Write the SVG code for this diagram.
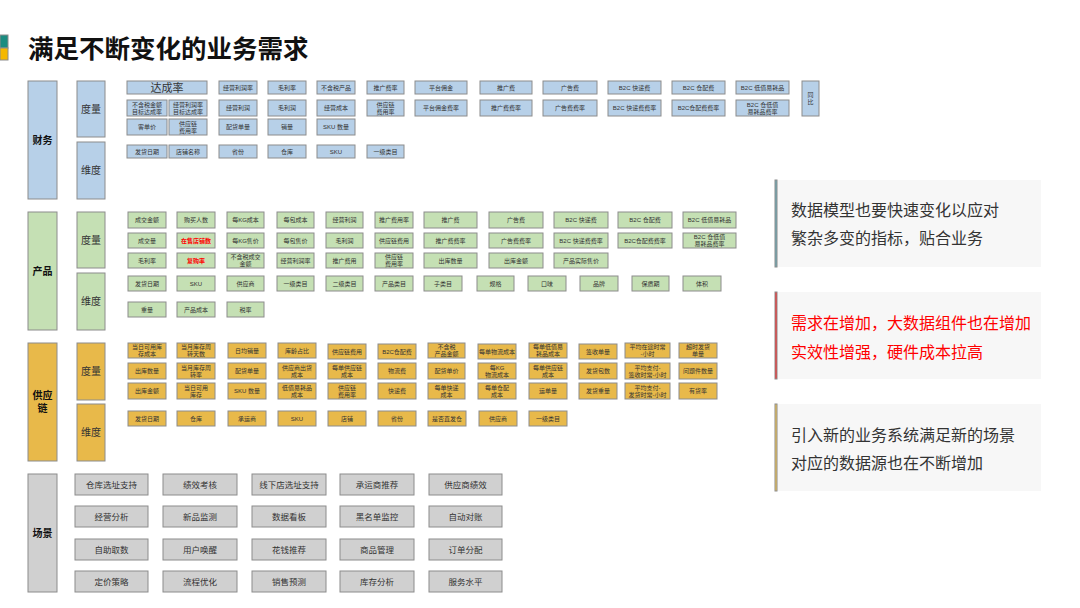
<svg xmlns="http://www.w3.org/2000/svg" width="1080" height="608" viewBox="0 0 1080 608">
<style>
text{font-family:"Liberation Sans","Noto Sans CJK SC",sans-serif;fill:#333;text-anchor:middle}
.s{font-size:6px}
.m{font-size:8.5px}
.l{font-size:10px}
.b{font-weight:bold;fill:#111}
.red{fill:#ff0000;font-weight:bold}
rect{stroke:#8c8c8c;stroke-width:1}
.fb{fill:#b7d0e8}
.pb{fill:#c5e0b4}
.sb{fill:#e8b94a}
.gb{fill:#d0d0d0}
.note{fill:#f7f7f7;stroke:none}
.nt{font-size:16px;text-anchor:start;fill:#333}
</style>
<rect x="0" y="35" width="8" height="13" fill="#1b8c80" stroke="none"/>
<rect x="0" y="48" width="8" height="12" fill="#f5b800" stroke="none"/>
<text x="28" y="58" style="font-size:25.5px;font-weight:bold;text-anchor:start;fill:#111">满足不断变化的业务需求</text>

<!-- left labels -->
<g id="lbl-fin"><rect class="fb" x="28" y="81" width="29" height="118"/><text class="l b" x="42.5" y="143.5">财务</text></g>
<g id="lbl-fin-m"><rect class="fb" x="77" y="81" width="28" height="56"/><text class="l" x="91" y="112.5">度量</text></g>
<g id="lbl-fin-d"><rect class="fb" x="77" y="142" width="28" height="57"/><text class="l" x="91" y="174">维度</text></g>
<g id="lbl-prod"><rect class="pb" x="28" y="212" width="29" height="118"/><text class="l b" x="42.5" y="274.5">产品</text></g>
<g id="lbl-prod-m"><rect class="pb" x="77" y="212" width="28" height="56"/><text class="l" x="91" y="243.5">度量</text></g>
<g id="lbl-prod-d"><rect class="pb" x="77" y="273" width="28" height="57"/><text class="l" x="91" y="305">维度</text></g>
<g id="lbl-sup"><rect class="sb" x="28" y="343" width="29" height="118"/><text class="l b" x="42.5" y="399">供应</text><text class="l b" x="42.5" y="412">链</text></g>
<g id="lbl-sup-m"><rect class="sb" x="77" y="343" width="28" height="57"/><text class="l" x="91" y="375">度量</text></g>
<g id="lbl-sup-d"><rect class="sb" x="77" y="404" width="28" height="57"/><text class="l" x="91" y="436">维度</text></g>
<g id="lbl-scene"><rect class="gb" x="28" y="474" width="29" height="118"/><text class="l b" x="42.5" y="536.5">场景</text></g>

<!-- finance -->
<g id="fin">
<g id="f-1-0"><rect class="fb" x="127" y="81" width="80" height="13"/><text x="167" y="91.5" style="font-size:11px">达成率</text></g>
<g id="f-1-1"><rect class="fb" x="219" y="81" width="38" height="13"/><text class="s" x="238" y="89.5">经营利润率</text></g>
<g id="f-1-2"><rect class="fb" x="268" y="81" width="38" height="13"/><text class="s" x="287" y="89.5">毛利率</text></g>
<g id="f-1-3"><rect class="fb" x="317" y="81" width="38" height="13"/><text class="s" x="336" y="89.5">不含税产品</text></g>
<g id="f-1-4"><rect class="fb" x="367" y="81" width="37" height="13"/><text class="s" x="385.5" y="89.5">推广费率</text></g>
<g id="f-1-5"><rect class="fb" x="415" y="81" width="52" height="13"/><text class="s" x="441" y="89.5">平台佣金</text></g>
<g id="f-1-6"><rect class="fb" x="480" y="81" width="52" height="13"/><text class="s" x="506" y="89.5">推广费</text></g>
<g id="f-1-7"><rect class="fb" x="543" y="81" width="54" height="13"/><text class="s" x="570" y="89.5">广告费</text></g>
<g id="f-1-8"><rect class="fb" x="608" y="81" width="53" height="13"/><text class="s" x="634.5" y="89.5">B2C 快递费</text></g>
<g id="f-1-9"><rect class="fb" x="672" y="81" width="53" height="13"/><text class="s" x="698.5" y="89.5">B2C 仓配费</text></g>
<g id="f-1-10"><rect class="fb" x="736" y="81" width="53" height="13"/><text class="s" x="762.5" y="89.5">B2C 低值易耗品</text></g>
<g id="f-yoy"><rect class="fb" x="802" y="81" width="17" height="35"/><text class="s" x="810.5" y="97">同</text><text class="s" x="810.5" y="104">比</text></g>

<g id="f-2-0"><rect class="fb" x="127" y="100" width="40" height="16"/><text class="s" x="147" y="106.5">不含税金额</text><text class="s" x="147" y="113.5">目标达成率</text></g>
<g id="f-2-1"><rect class="fb" x="169" y="100" width="38" height="16"/><text class="s" x="188" y="106.5">经营利润率</text><text class="s" x="188" y="113.5">目标达成率</text></g>
<g id="f-2-2"><rect class="fb" x="219" y="100" width="38" height="16"/><text class="s" x="238" y="110">经营利润</text></g>
<g id="f-2-3"><rect class="fb" x="268" y="100" width="38" height="16"/><text class="s" x="287" y="110">毛利润</text></g>
<g id="f-2-4"><rect class="fb" x="317" y="100" width="38" height="16"/><text class="s" x="336" y="110">经营成本</text></g>
<g id="f-2-5"><rect class="fb" x="367" y="100" width="37" height="16"/><text class="s" x="385.5" y="106.5">供应链</text><text class="s" x="385.5" y="113.5">费用率</text></g>
<g id="f-2-6"><rect class="fb" x="415" y="100" width="52" height="16"/><text class="s" x="441" y="110">平台佣金费率</text></g>
<g id="f-2-7"><rect class="fb" x="480" y="100" width="52" height="16"/><text class="s" x="506" y="110">推广费费率</text></g>
<g id="f-2-8"><rect class="fb" x="543" y="100" width="54" height="16"/><text class="s" x="570" y="110">广告费费率</text></g>
<g id="f-2-9"><rect class="fb" x="608" y="100" width="53" height="16"/><text class="s" x="634.5" y="110">B2C 快递费费率</text></g>
<g id="f-2-10"><rect class="fb" x="672" y="100" width="53" height="16"/><text class="s" x="698.5" y="110">B2C仓配费费率</text></g>
<g id="f-2-11"><rect class="fb" x="736" y="100" width="53" height="16"/><text class="s" x="762.5" y="106.5">B2C 仓低值</text><text class="s" x="762.5" y="113.5">易耗品费率</text></g>

<g id="f-3-0"><rect class="fb" x="127" y="119" width="40" height="16"/><text class="s" x="147" y="129">客单价</text></g>
<g id="f-3-1"><rect class="fb" x="169" y="119" width="38" height="16"/><text class="s" x="188" y="125.5">供应链</text><text class="s" x="188" y="132.5">费用率</text></g>
<g id="f-3-2"><rect class="fb" x="219" y="119" width="38" height="16"/><text class="s" x="238" y="129">配货单量</text></g>
<g id="f-3-3"><rect class="fb" x="268" y="119" width="38" height="16"/><text class="s" x="287" y="129">销量</text></g>
<g id="f-3-4"><rect class="fb" x="317" y="119" width="38" height="16"/><text class="s" x="336" y="129">SKU 数量</text></g>

<g id="f-d-0"><rect class="fb" x="127" y="145" width="40" height="13"/><text class="s" x="147" y="153.5">发货日期</text></g>
<g id="f-d-1"><rect class="fb" x="169" y="145" width="38" height="13"/><text class="s" x="188" y="153.5">店铺名称</text></g>
<g id="f-d-2"><rect class="fb" x="219" y="145" width="38" height="13"/><text class="s" x="238" y="153.5">省份</text></g>
<g id="f-d-3"><rect class="fb" x="268" y="145" width="38" height="13"/><text class="s" x="287" y="153.5">仓库</text></g>
<g id="f-d-4"><rect class="fb" x="317" y="145" width="38" height="13"/><text class="s" x="336" y="153.5">SKU</text></g>
<g id="f-d-5"><rect class="fb" x="367" y="145" width="37" height="13"/><text class="s" x="385.5" y="153.5">一级类目</text></g>
</g>

<!-- product -->
<g id="prod">
<g id="p-1-0"><rect class="pb" x="128" y="212" width="38" height="16"/><text class="s" x="147" y="222">成交金额</text></g>
<g id="p-1-1"><rect class="pb" x="177" y="212" width="38" height="16"/><text class="s" x="196" y="222">购买人数</text></g>
<g id="p-1-2"><rect class="pb" x="227" y="212" width="37" height="16"/><text class="s" x="245.5" y="222">每KG成本</text></g>
<g id="p-1-3"><rect class="pb" x="277" y="212" width="37" height="16"/><text class="s" x="295.5" y="222">每包成本</text></g>
<g id="p-1-4"><rect class="pb" x="326" y="212" width="37" height="16"/><text class="s" x="344.5" y="222">经营利润</text></g>
<g id="p-1-5"><rect class="pb" x="375" y="212" width="38" height="16"/><text class="s" x="394" y="222">推广费用率</text></g>
<g id="p-1-6"><rect class="pb" x="424" y="212" width="53" height="16"/><text class="s" x="450.5" y="222">推广费</text></g>
<g id="p-1-7"><rect class="pb" x="489" y="212" width="54" height="16"/><text class="s" x="516" y="222">广告费</text></g>
<g id="p-1-8"><rect class="pb" x="554" y="212" width="54" height="16"/><text class="s" x="581" y="222">B2C 快递费</text></g>
<g id="p-1-9"><rect class="pb" x="618" y="212" width="54" height="16"/><text class="s" x="645" y="222">B2C 仓配费</text></g>
<g id="p-1-10"><rect class="pb" x="683" y="212" width="53" height="16"/><text class="s" x="709.5" y="222">B2C 低值易耗品</text></g>

<g id="p-2-0"><rect class="pb" x="128" y="233" width="38" height="15"/><text class="s" x="147" y="242.5">成交量</text></g>
<g id="p-2-1"><rect class="pb" x="177" y="233" width="38" height="15"/><text class="s red" x="196" y="242.5">在售店铺数</text></g>
<g id="p-2-2"><rect class="pb" x="227" y="233" width="37" height="15"/><text class="s" x="245.5" y="242.5">每KG售价</text></g>
<g id="p-2-3"><rect class="pb" x="277" y="233" width="37" height="15"/><text class="s" x="295.5" y="242.5">每包售价</text></g>
<g id="p-2-4"><rect class="pb" x="326" y="233" width="37" height="15"/><text class="s" x="344.5" y="242.5">毛利润</text></g>
<g id="p-2-5"><rect class="pb" x="375" y="233" width="38" height="15"/><text class="s" x="394" y="242.5">供应链费用</text></g>
<g id="p-2-6"><rect class="pb" x="424" y="233" width="53" height="15"/><text class="s" x="450.5" y="242.5">推广费费率</text></g>
<g id="p-2-7"><rect class="pb" x="489" y="233" width="54" height="15"/><text class="s" x="516" y="242.5">广告费费率</text></g>
<g id="p-2-8"><rect class="pb" x="554" y="233" width="54" height="15"/><text class="s" x="581" y="242.5">B2C 快递费费率</text></g>
<g id="p-2-9"><rect class="pb" x="618" y="233" width="54" height="15"/><text class="s" x="645" y="242.5">B2C仓配费费率</text></g>
<g id="p-2-10"><rect class="pb" x="683" y="233" width="53" height="15"/><text class="s" x="709.5" y="239">B2C 仓低值</text><text class="s" x="709.5" y="246">易耗品费率</text></g>

<g id="p-3-0"><rect class="pb" x="128" y="253" width="38" height="15"/><text class="s" x="147" y="262.5">毛利率</text></g>
<g id="p-3-1"><rect class="pb" x="177" y="253" width="38" height="15"/><text class="s red" x="196" y="262.5">复购率</text></g>
<g id="p-3-2"><rect class="pb" x="227" y="253" width="37" height="15"/><text class="s" x="245.5" y="259">不含税成交</text><text class="s" x="245.5" y="266">金额</text></g>
<g id="p-3-3"><rect class="pb" x="277" y="253" width="37" height="15"/><text class="s" x="295.5" y="262.5">经营利润率</text></g>
<g id="p-3-4"><rect class="pb" x="326" y="253" width="37" height="15"/><text class="s" x="344.5" y="262.5">推广费用</text></g>
<g id="p-3-5"><rect class="pb" x="375" y="253" width="38" height="15"/><text class="s" x="394" y="259">供应链</text><text class="s" x="394" y="266">费用率</text></g>
<g id="p-3-6"><rect class="pb" x="424" y="253" width="53" height="15"/><text class="s" x="450.5" y="262.5">出库数量</text></g>
<g id="p-3-7"><rect class="pb" x="489" y="253" width="54" height="15"/><text class="s" x="516" y="262.5">出库金额</text></g>
<g id="p-3-8"><rect class="pb" x="554" y="253" width="54" height="15"/><text class="s" x="581" y="262.5">产品实际售价</text></g>

<g id="p-d-0"><rect class="pb" x="128" y="276" width="38" height="15"/><text class="s" x="147" y="285.5">发货日期</text></g>
<g id="p-d-1"><rect class="pb" x="177" y="276" width="38" height="15"/><text class="s" x="196" y="285.5">SKU</text></g>
<g id="p-d-2"><rect class="pb" x="227" y="276" width="37" height="15"/><text class="s" x="245.5" y="285.5">供应商</text></g>
<g id="p-d-3"><rect class="pb" x="277" y="276" width="37" height="15"/><text class="s" x="295.5" y="285.5">一级类目</text></g>
<g id="p-d-4"><rect class="pb" x="326" y="276" width="37" height="15"/><text class="s" x="344.5" y="285.5">二级类目</text></g>
<g id="p-d-5"><rect class="pb" x="375" y="276" width="38" height="15"/><text class="s" x="394" y="285.5">产品类目</text></g>
<g id="p-d-6"><rect class="pb" x="424" y="276" width="38" height="15"/><text class="s" x="443" y="285.5">子类目</text></g>
<g id="p-d-7"><rect class="pb" x="477" y="276" width="37" height="15"/><text class="s" x="495.5" y="285.5">规格</text></g>
<g id="p-d-8"><rect class="pb" x="528" y="276" width="38" height="15"/><text class="s" x="547" y="285.5">口味</text></g>
<g id="p-d-9"><rect class="pb" x="580" y="276" width="38" height="15"/><text class="s" x="599" y="285.5">品牌</text></g>
<g id="p-d-10"><rect class="pb" x="632" y="276" width="37" height="15"/><text class="s" x="650.5" y="285.5">保质期</text></g>
<g id="p-d-11"><rect class="pb" x="683" y="276" width="38" height="15"/><text class="s" x="702" y="285.5">体积</text></g>
<g id="p-d-12"><rect class="pb" x="128" y="302" width="38" height="15"/><text class="s" x="147" y="311.5">重量</text></g>
<g id="p-d-13"><rect class="pb" x="177" y="302" width="38" height="15"/><text class="s" x="196" y="311.5">产品成本</text></g>
<g id="p-d-14"><rect class="pb" x="227" y="302" width="37" height="15"/><text class="s" x="245.5" y="311.5">税率</text></g>
</g>

<!-- supply chain -->
<g id="sup">
<g id="s-1-0"><rect class="sb" x="128" y="343" width="38" height="15"/><text class="s" x="147" y="349">当日可用库</text><text class="s" x="147" y="356">存成本</text></g>
<g id="s-1-1"><rect class="sb" x="177" y="343" width="38" height="15"/><text class="s" x="196" y="349">当月库存周</text><text class="s" x="196" y="356">转天数</text></g>
<g id="s-1-2"><rect class="sb" x="228" y="343" width="38" height="15"/><text class="s" x="247" y="352.5">日均销量</text></g>
<g id="s-1-3"><rect class="sb" x="278" y="343" width="38" height="15"/><text class="s" x="297" y="352.5">库龄占比</text></g>
<g id="s-1-4"><rect class="sb" x="328" y="344" width="38" height="15"/><text class="s" x="347" y="353.5">供应链费用</text></g>
<g id="s-1-5"><rect class="sb" x="378" y="344" width="38" height="15"/><text class="s" x="397" y="353.5">B2C仓配费</text></g>
<g id="s-1-6"><rect class="sb" x="428" y="343" width="37" height="15"/><text class="s" x="446.5" y="349">不含税</text><text class="s" x="446.5" y="356">产品金额</text></g>
<g id="s-1-7"><rect class="sb" x="478" y="344" width="38" height="15"/><text class="s" x="497" y="353.5">每单物流成本</text></g>
<g id="s-1-8"><rect class="sb" x="529" y="343" width="38" height="15"/><text class="s" x="548" y="349">每单低值易</text><text class="s" x="548" y="356">耗品成本</text></g>
<g id="s-1-9"><rect class="sb" x="579" y="344" width="38" height="15"/><text class="s" x="598" y="353.5">签收单量</text></g>
<g id="s-1-10"><rect class="sb" x="625" y="343" width="45" height="15"/><text class="s" x="647.5" y="349">平均在途时常</text><text class="s" x="647.5" y="356">-小时</text></g>
<g id="s-1-11"><rect class="sb" x="679" y="343" width="38" height="15"/><text class="s" x="698" y="349">超时发货</text><text class="s" x="698" y="356">单量</text></g>

<g id="s-2-0"><rect class="sb" x="128" y="363" width="38" height="16"/><text class="s" x="147" y="373">出库数量</text></g>
<g id="s-2-1"><rect class="sb" x="177" y="363" width="38" height="16"/><text class="s" x="196" y="369.5">当月库存周</text><text class="s" x="196" y="376.5">转率</text></g>
<g id="s-2-2"><rect class="sb" x="228" y="363" width="38" height="16"/><text class="s" x="247" y="373">配货单量</text></g>
<g id="s-2-3"><rect class="sb" x="278" y="363" width="38" height="16"/><text class="s" x="297" y="369.5">供应商出货</text><text class="s" x="297" y="376.5">成本</text></g>
<g id="s-2-4"><rect class="sb" x="328" y="363" width="38" height="16"/><text class="s" x="347" y="369.5">每单供应链</text><text class="s" x="347" y="376.5">成本</text></g>
<g id="s-2-5"><rect class="sb" x="378" y="363" width="38" height="16"/><text class="s" x="397" y="373">物流费</text></g>
<g id="s-2-6"><rect class="sb" x="428" y="363" width="37" height="16"/><text class="s" x="446.5" y="373">配货单价</text></g>
<g id="s-2-7"><rect class="sb" x="478" y="363" width="38" height="16"/><text class="s" x="497" y="369.5">每KG</text><text class="s" x="497" y="376.5">物流成本</text></g>
<g id="s-2-8"><rect class="sb" x="529" y="363" width="38" height="16"/><text class="s" x="548" y="369.5">每单供应链</text><text class="s" x="548" y="376.5">成本</text></g>
<g id="s-2-9"><rect class="sb" x="579" y="363" width="38" height="16"/><text class="s" x="598" y="373">发货包数</text></g>
<g id="s-2-10"><rect class="sb" x="625" y="363" width="45" height="16"/><text class="s" x="647.5" y="369.5">平均支付-</text><text class="s" x="647.5" y="376.5">签收时常-小时</text></g>
<g id="s-2-11"><rect class="sb" x="679" y="363" width="38" height="16"/><text class="s" x="698" y="373">问题件数量</text></g>

<g id="s-3-0"><rect class="sb" x="128" y="383" width="38" height="16"/><text class="s" x="147" y="393">出库金额</text></g>
<g id="s-3-1"><rect class="sb" x="177" y="383" width="38" height="16"/><text class="s" x="196" y="389.5">当日可用</text><text class="s" x="196" y="396.5">库存</text></g>
<g id="s-3-2"><rect class="sb" x="228" y="383" width="38" height="16"/><text class="s" x="247" y="393">SKU 数量</text></g>
<g id="s-3-3"><rect class="sb" x="278" y="383" width="38" height="16"/><text class="s" x="297" y="389.5">低值易耗品</text><text class="s" x="297" y="396.5">成本</text></g>
<g id="s-3-4"><rect class="sb" x="328" y="383" width="38" height="16"/><text class="s" x="347" y="389.5">供应链</text><text class="s" x="347" y="396.5">费用率</text></g>
<g id="s-3-5"><rect class="sb" x="378" y="383" width="38" height="16"/><text class="s" x="397" y="393">快递费</text></g>
<g id="s-3-6"><rect class="sb" x="428" y="383" width="37" height="16"/><text class="s" x="446.5" y="389.5">每单快递</text><text class="s" x="446.5" y="396.5">成本</text></g>
<g id="s-3-7"><rect class="sb" x="478" y="383" width="38" height="16"/><text class="s" x="497" y="389.5">每单仓配</text><text class="s" x="497" y="396.5">成本</text></g>
<g id="s-3-8"><rect class="sb" x="529" y="383" width="38" height="16"/><text class="s" x="548" y="393">运单量</text></g>
<g id="s-3-9"><rect class="sb" x="579" y="383" width="38" height="16"/><text class="s" x="598" y="393">发货重量</text></g>
<g id="s-3-10"><rect class="sb" x="625" y="383" width="45" height="16"/><text class="s" x="647.5" y="389.5">平均支付-</text><text class="s" x="647.5" y="396.5">发货时常-小时</text></g>
<g id="s-3-11"><rect class="sb" x="679" y="383" width="38" height="16"/><text class="s" x="698" y="393">有货率</text></g>

<g id="s-d-0"><rect class="sb" x="128" y="411" width="38" height="15"/><text class="s" x="147" y="420.5">发货日期</text></g>
<g id="s-d-1"><rect class="sb" x="177" y="411" width="38" height="15"/><text class="s" x="196" y="420.5">仓库</text></g>
<g id="s-d-2"><rect class="sb" x="228" y="411" width="38" height="15"/><text class="s" x="247" y="420.5">承运商</text></g>
<g id="s-d-3"><rect class="sb" x="278" y="411" width="38" height="15"/><text class="s" x="297" y="420.5">SKU</text></g>
<g id="s-d-4"><rect class="sb" x="328" y="411" width="38" height="15"/><text class="s" x="347" y="420.5">店铺</text></g>
<g id="s-d-5"><rect class="sb" x="378" y="411" width="38" height="15"/><text class="s" x="397" y="420.5">省份</text></g>
<g id="s-d-6"><rect class="sb" x="428" y="411" width="38" height="15"/><text class="s" x="447" y="420.5">是否直发仓</text></g>
<g id="s-d-7"><rect class="sb" x="479" y="411" width="38" height="15"/><text class="s" x="498" y="420.5">供应商</text></g>
<g id="s-d-8"><rect class="sb" x="529" y="411" width="38" height="15"/><text class="s" x="548" y="420.5">一级类目</text></g>
</g>

<!-- scenes -->
<g id="scene">
<g id="sc-0-0"><rect class="gb" x="75" y="474" width="73" height="21"/><text class="m" x="111.5" y="487.5">仓库选址支持</text></g>
<g id="sc-0-1"><rect class="gb" x="163" y="474" width="74" height="21"/><text class="m" x="200" y="487.5">绩效考核</text></g>
<g id="sc-0-2"><rect class="gb" x="252" y="474" width="74" height="21"/><text class="m" x="289" y="487.5">线下店选址支持</text></g>
<g id="sc-0-3"><rect class="gb" x="340" y="474" width="74" height="21"/><text class="m" x="377" y="487.5">承运商推荐</text></g>
<g id="sc-0-4"><rect class="gb" x="429" y="474" width="73" height="21"/><text class="m" x="465.5" y="487.5">供应商绩效</text></g>
<g id="sc-1-0"><rect class="gb" x="75" y="506" width="73" height="21"/><text class="m" x="111.5" y="519.5">经营分析</text></g>
<g id="sc-1-1"><rect class="gb" x="163" y="506" width="74" height="21"/><text class="m" x="200" y="519.5">新品监测</text></g>
<g id="sc-1-2"><rect class="gb" x="252" y="506" width="74" height="21"/><text class="m" x="289" y="519.5">数据看板</text></g>
<g id="sc-1-3"><rect class="gb" x="340" y="506" width="74" height="21"/><text class="m" x="377" y="519.5">黑名单监控</text></g>
<g id="sc-1-4"><rect class="gb" x="429" y="506" width="73" height="21"/><text class="m" x="465.5" y="519.5">自动对账</text></g>
<g id="sc-2-0"><rect class="gb" x="75" y="539" width="73" height="21"/><text class="m" x="111.5" y="552.5">自助取数</text></g>
<g id="sc-2-1"><rect class="gb" x="163" y="539" width="74" height="21"/><text class="m" x="200" y="552.5">用户唤醒</text></g>
<g id="sc-2-2"><rect class="gb" x="252" y="539" width="74" height="21"/><text class="m" x="289" y="552.5">花钱推荐</text></g>
<g id="sc-2-3"><rect class="gb" x="340" y="539" width="74" height="21"/><text class="m" x="377" y="552.5">商品管理</text></g>
<g id="sc-2-4"><rect class="gb" x="429" y="539" width="73" height="21"/><text class="m" x="465.5" y="552.5">订单分配</text></g>
<g id="sc-3-0"><rect class="gb" x="75" y="571" width="73" height="21"/><text class="m" x="111.5" y="584.5">定价策略</text></g>
<g id="sc-3-1"><rect class="gb" x="163" y="571" width="74" height="21"/><text class="m" x="200" y="584.5">流程优化</text></g>
<g id="sc-3-2"><rect class="gb" x="252" y="571" width="74" height="21"/><text class="m" x="289" y="584.5">销售预测</text></g>
<g id="sc-3-3"><rect class="gb" x="340" y="571" width="74" height="21"/><text class="m" x="377" y="584.5">库存分析</text></g>
<g id="sc-3-4"><rect class="gb" x="429" y="571" width="73" height="21"/><text class="m" x="465.5" y="584.5">服务水平</text></g>
</g>

<!-- notes -->
<g id="note1"><rect class="note" x="775" y="180" width="266" height="87"/><rect x="775" y="180" width="2" height="87" fill="#6aaab6" stroke="none"/><text class="nt" x="791" y="216">数据模型也要快速变化以应对</text><text class="nt" x="791" y="244">繁杂多变的指标，贴合业务</text></g>
<g id="note2"><rect class="note" x="775" y="292" width="266" height="87"/><rect x="775" y="292" width="2" height="87" fill="#ff2a2a" stroke="none"/><text class="nt" x="791" y="329" style="fill:#ff0000">需求在增加，大数据组件也在增加</text><text class="nt" x="791" y="358" style="fill:#ff0000">实效性增强，硬件成本拉高</text></g>
<g id="note3"><rect class="note" x="775" y="404" width="266" height="87"/><rect x="775" y="404" width="2" height="87" fill="#f5c850" stroke="none"/><text class="nt" x="791" y="441">引入新的业务系统满足新的场景</text><text class="nt" x="791" y="469">对应的数据源也在不断增加</text></g>
</svg>
